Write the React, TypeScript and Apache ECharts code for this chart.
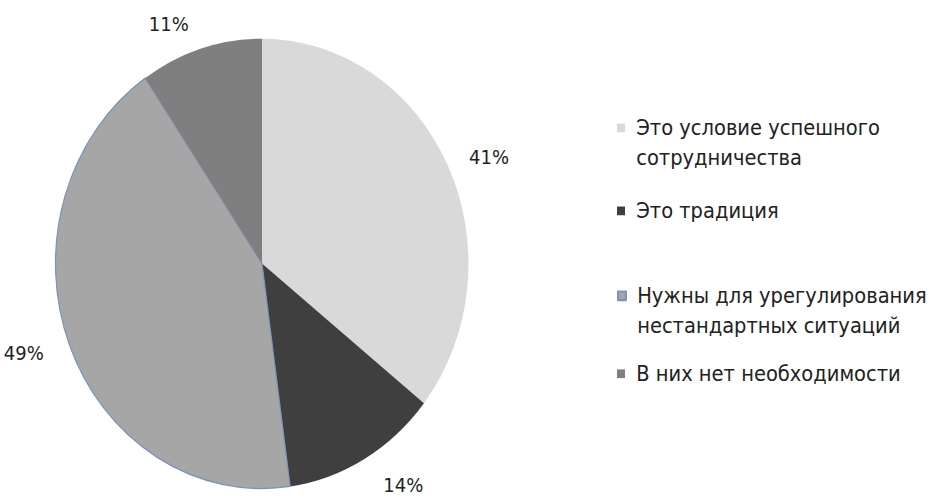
import React, { useEffect, useRef } from "react";
import * as echarts from "echarts";

const categories = [
  "Это условие успешного сотрудничества",
  "Это традиция",
  "Нужны для урегулирования нестандартных ситуаций",
  "В них нет необходимости",
];
const values = [41, 14, 49, 11];
const legendLines = [
  ["Это условие успешного", "сотрудничества"],
  ["Это традиция"],
  ["Нужны для урегулирования", "нестандартных ситуаций"],
  ["В них нет необходимости"],
];
const colors = ["#d9d9d9", "#3f3f3f", "#a6a6a6", "#7f7f7f"];
// first-line centre of each legend entry (chart units, before vertical stretch)
const legendLineY = [117.4, 193.6, 271.6, 343.1];
// distance of each value label from the pie edge
const labelGaps = [18, 28, 22, 24];

const STRETCH = 1.0893;
const H = 459;

export default function App() {
  const ref = useRef<HTMLDivElement>(null);
  useEffect(() => {
    if (!ref.current) return;
    const chart = echarts.init(ref.current, null, { renderer: "svg" });
    const LH = 27.5;
    const font = "DejaVu Sans";
    const legends = categories.map((name, i) => {
      const multi = legendLines[i].length > 1;
      const text = legendLines[i].map((l) => " " + l).join("\n");
      return {
        data: [name],
        left: 617,
        top: legendLineY[i] - (multi ? 1.5 * LH : 0.5 * LH),
        orient: "vertical" as const,
        padding: 0,
        icon: "rect",
        itemWidth: 8,
        itemHeight: 8,
        selectedMode: false,
        formatter: () => (multi ? "\n" + text : text),
        textStyle: {
          fontFamily: font,
          fontSize: 19.5,
          color: "#222",
          lineHeight: LH,
        },
      };
    });
    chart.setOption({
      animation: false,
      backgroundColor: "#ffffff",
      legend: legends,
      series: [
        {
          type: "pie",
          center: [262, 242],
          radius: 206.5,
          startAngle: 90,
          clockwise: true,
          avoidLabelOverlap: false,
          label: {
            show: true,
            position: "outside",
            formatter: "{c}%",
            fontFamily: font,
            fontSize: 18,
            color: "#222",
          },
          labelLine: { show: false, length: 24, length2: 0 },
          data: categories.map((name, i) => ({
            name,
            value: values[i],
            labelLine: { show: false, length: labelGaps[i], length2: 0 },
            itemStyle:
              i === 2
                ? { color: colors[i], borderColor: "#7a93bd", borderWidth: 1.2 }
                : { color: colors[i], borderWidth: 0 },
          })),
        },
      ],
    });
    return () => chart.dispose();
  }, []);
  return (
    <div
      style={{
        position: "absolute",
        left: 0,
        top: 0,
        width: 932,
        height: 500,
        overflow: "hidden",
        background: "#fff",
      }}
    >
      <div
        ref={ref}
        style={{
          width: 932,
          height: H,
          transform: `scaleY(${STRETCH})`,
          transformOrigin: "0 0",
        }}
      />
    </div>
  );
}
